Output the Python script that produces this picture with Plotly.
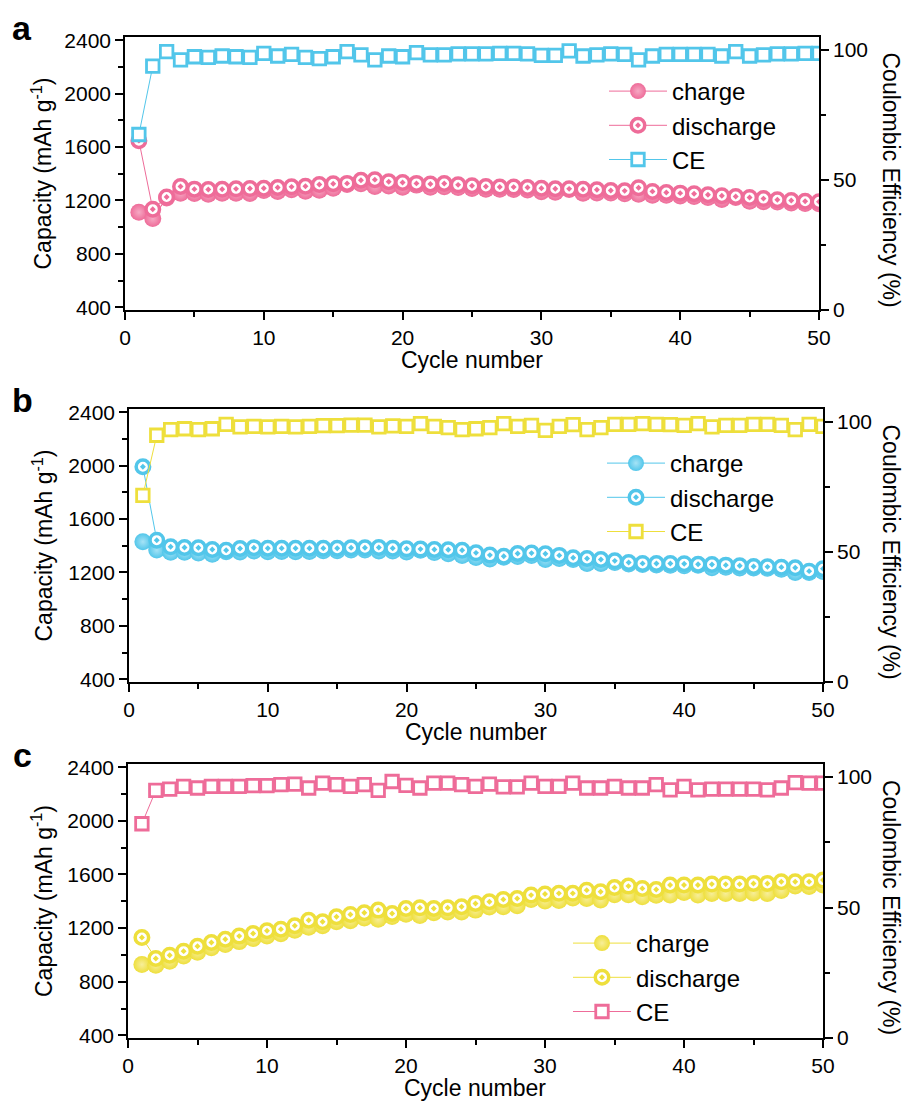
import plotly.graph_objects as go

cycles = list(range(1, 51))

# ---- panel a ----
charge_a = [1112, 1065, 1219, 1255, 1252, 1246, 1254, 1254, 1253, 1275,
            1267, 1280, 1270, 1276, 1291, 1320, 1326, 1304, 1309, 1299,
            1315, 1299, 1302, 1297, 1290, 1285, 1284, 1283, 1278, 1265,
            1261, 1283, 1254, 1256, 1256, 1250, 1247, 1239, 1239, 1234,
            1229, 1222, 1208, 1223, 1195, 1191, 1188, 1182, 1178, 1175]
discharge_a = [1648, 1135, 1226, 1305, 1285, 1282, 1284, 1287, 1289, 1292,
               1297, 1302, 1307, 1320, 1325, 1328, 1352, 1356, 1340, 1334,
               1328, 1324, 1327, 1317, 1310, 1305, 1301, 1300, 1297, 1292,
               1288, 1287, 1284, 1280, 1275, 1272, 1296, 1268, 1260, 1255,
               1250, 1243, 1236, 1230, 1223, 1214, 1206, 1200, 1194, 1190]
ce_a = [67.5, 93.8, 99.4, 96.2, 97.4, 97.2, 97.7, 97.4, 97.2, 98.7,
        97.7, 98.3, 97.2, 96.7, 97.4, 99.4, 98.1, 96.2, 97.7, 97.4,
        99.0, 98.1, 98.1, 98.5, 98.5, 98.5, 98.7, 98.7, 98.5, 97.9,
        97.9, 99.7, 97.7, 98.1, 98.5, 98.3, 96.2, 97.7, 98.3, 98.3,
        98.3, 98.3, 97.7, 99.4, 97.7, 98.1, 98.5, 98.5, 98.7, 98.7]

# ---- panel b ----
charge_b = [1430, 1368, 1352, 1351, 1345, 1336, 1355, 1354, 1361, 1356,
            1358, 1356, 1358, 1363, 1363, 1368, 1368, 1361, 1361, 1354,
            1367, 1349, 1340, 1327, 1312, 1301, 1314, 1319, 1328, 1297,
            1305, 1297, 1267, 1268, 1275, 1264, 1260, 1256, 1254, 1250,
            1254, 1236, 1239, 1234, 1234, 1231, 1224, 1200, 1199, 1207]
discharge_b = [1992, 1442, 1392, 1387, 1385, 1372, 1367, 1380, 1385, 1382,
               1382, 1382, 1382, 1382, 1382, 1385, 1385, 1387, 1382, 1377,
               1375, 1372, 1370, 1367, 1347, 1330, 1322, 1342, 1345, 1340,
               1328, 1310, 1305, 1297, 1287, 1275, 1268, 1267, 1267, 1266,
               1262, 1260, 1255, 1250, 1245, 1242, 1240, 1236, 1210, 1228]
ce_b = [71.8, 94.9, 97.1, 97.4, 97.1, 97.4, 99.1, 98.1, 98.3, 98.1,
        98.3, 98.1, 98.3, 98.6, 98.6, 98.8, 98.8, 98.1, 98.5, 98.3,
        99.4, 98.3, 97.8, 97.1, 97.4, 97.8, 99.4, 98.3, 98.7, 96.8,
        98.3, 99.0, 97.1, 97.8, 99.1, 99.1, 99.4, 99.1, 99.0, 98.7,
        99.4, 98.1, 98.7, 98.7, 99.1, 99.1, 98.7, 97.1, 99.1, 98.3]

# ---- panel c ----
charge_c = [928, 923, 952, 991, 1020, 1053, 1077, 1099, 1122, 1141,
            1157, 1184, 1206, 1218, 1247, 1255, 1276, 1266, 1287, 1303,
            1294, 1315, 1320, 1320, 1334, 1358, 1360, 1367, 1413, 1402,
            1406, 1425, 1421, 1409, 1449, 1449, 1433, 1445, 1446, 1466,
            1446, 1458, 1458, 1458, 1462, 1458, 1481, 1514, 1510, 1522]
discharge_c = [1130, 973, 998, 1028, 1065, 1092, 1117, 1140, 1160, 1180,
               1192, 1217, 1259, 1247, 1284, 1302, 1314, 1334, 1309, 1346,
               1351, 1346, 1351, 1359, 1384, 1396, 1414, 1421, 1446, 1454,
               1459, 1459, 1483, 1471, 1503, 1513, 1496, 1488, 1521, 1521,
               1521, 1528, 1528, 1528, 1533, 1533, 1546, 1546, 1546, 1558]
ce_c = [82.1, 94.9, 95.4, 96.4, 95.8, 96.4, 96.4, 96.4, 96.7, 96.7,
        97.1, 97.3, 95.8, 97.7, 97.1, 96.4, 97.1, 94.9, 98.3, 96.8,
        95.8, 97.7, 97.7, 97.1, 96.4, 97.3, 96.2, 96.2, 97.7, 96.4,
        96.4, 97.7, 95.8, 95.8, 96.4, 95.8, 95.8, 97.1, 95.1, 96.4,
        95.1, 95.4, 95.4, 95.4, 95.4, 95.1, 95.8, 97.9, 97.7, 97.7]

cap_ticks = [400, 800, 1200, 1600, 2000, 2400]
cap_minor = [600, 1000, 1400, 1800, 2200]
ce_ticks = [0, 50, 100]
ce_minor = [25, 75]
cyc_ticks = [0, 10, 20, 30, 40, 50]
cyc_minor = [5, 15, 25, 35, 45]

PINK = "#EE6C99"
PINK_HI = "#F6A9C4"
CYAN = "#52C6EA"
CYAN_HI = "#A6E3F6"
YELLOW = "#EEDF3C"
YELLOW_HI = "#F7EE9A"

FONT = "Arial, 'Liberation Sans', sans-serif"
W, H = 911, 1102


def px_x(v):
    return v / W


def px_y(v):
    return 1 - v / H


# panel frames in pixels: (left, right, top, bottom) and legend anchor
panels = [
    dict(letter="a", box=(125, 819, 37, 310), leg=(604, 69),
         cap=PINK, cap_hi=PINK_HI, ce=CYAN,
         data=(charge_a, discharge_a, ce_a)),
    dict(letter="b", box=(129, 823, 409, 682), leg=(602, 441),
         cap=CYAN, cap_hi=CYAN_HI, ce=YELLOW,
         data=(charge_b, discharge_b, ce_b)),
    dict(letter="c", box=(128, 823, 764, 1038), leg=(568, 921),
         cap=YELLOW, cap_hi=YELLOW_HI, ce=PINK,
         data=(charge_c, discharge_c, ce_c)),
]

fig = go.Figure()
layout = dict(
    width=W, height=H,
    margin=dict(l=0, r=0, t=0, b=0),
    paper_bgcolor="white", plot_bgcolor="white",
    font=dict(family=FONT, color="black", size=21),
    annotations=[],
)

axis_common = dict(
    showgrid=False, zeroline=False, showline=True, linecolor="black",
    linewidth=1.6, ticks="outside", ticklen=8, tickwidth=1.6,
    tickcolor="black", tickfont=dict(size=21, family=FONT),
    automargin=False,
)

for i, p in enumerate(panels):
    L, R, T, B = p["box"]
    xname = "x" if i == 0 else f"x{i + 1}"
    yl = "y" if i == 0 else f"y{2 * i + 1}"
    yr = f"y{2 * i + 2}"
    xkey = "xaxis" if i == 0 else f"xaxis{i + 1}"
    ylkey = "yaxis" if i == 0 else f"yaxis{2 * i + 1}"
    yrkey = f"yaxis{2 * i + 2}"
    legkey = "legend" if i == 0 else f"legend{i + 1}"

    charge, discharge, ce = p["data"]

    fig.add_trace(go.Scatter(
        x=cycles, y=charge, name="charge", mode="lines+markers",
        xaxis=xname, yaxis=yl, legend=legkey,
        line=dict(color=p["cap"], width=1),
        marker=dict(symbol="circle", size=17, color=p["cap"],
                    gradient=dict(type="radial", color=p["cap_hi"]),
                    line=dict(width=0)),
    ))
    fig.add_trace(go.Scatter(
        x=cycles, y=discharge, name="discharge", mode="lines+markers",
        xaxis=xname, yaxis=yl, legend=legkey,
        line=dict(color=p["cap"], width=1),
        marker=dict(symbol="circle-dot", size=13.5, color="white",
                    line=dict(color=p["cap"], width=3.5)),
    ))
    fig.add_trace(go.Scatter(
        x=cycles, y=ce, name="CE", mode="lines+markers",
        xaxis=xname, yaxis=yr, legend=legkey,
        line=dict(color=p["ce"], width=1),
        marker=dict(symbol="square", size=12.5, color="white",
                    line=dict(color=p["ce"], width=2.8)),
    ))

    layout[xkey] = dict(
        axis_common, domain=[px_x(L), px_x(R)], anchor=yl, range=[0, 50],
        tickmode="array", tickvals=cyc_ticks, mirror=True,
        minor=dict(tickmode="array", tickvals=cyc_minor, ticks="outside",
                   ticklen=5, tickwidth=1.6, tickcolor="black"),
    )
    layout[ylkey] = dict(
        axis_common, domain=[px_y(B), px_y(T)], anchor=xname,
        range=[380, 2424], tickmode="array", tickvals=cap_ticks,
        minor=dict(tickmode="array", tickvals=cap_minor, ticks="outside",
                   ticklen=5, tickwidth=1.6, tickcolor="black"),
    )
    layout[yrkey] = dict(
        axis_common, domain=[px_y(B), px_y(T)], anchor=xname,
        overlaying=yl, side="right", range=[0, 105],
        tickmode="array", tickvals=ce_ticks,
        minor=dict(tickmode="array", tickvals=ce_minor, ticks="outside",
                   ticklen=5, tickwidth=1.6, tickcolor="black"),
    )
    lx, ly = p["leg"]
    layout[legkey] = dict(
        x=px_x(lx), y=px_y(ly), xanchor="left", yanchor="top",
        bgcolor="rgba(0,0,0,0)", borderwidth=0, itemwidth=58,
        font=dict(size=24, family=FONT), tracegroupgap=0,
        itemclick=False,
    )

    mid_y = (T + B) / 2
    layout["annotations"] += [
        dict(text=f"<b>{p['letter']}</b>", x=px_x(22), y=px_y((T - 9)),
             xref="paper", yref="paper", showarrow=False,
             font=dict(size=34, family=FONT), xanchor="center", yanchor="middle"),
        dict(text="Capacity (mAh g<sup>-1</sup>)", x=px_x(42), y=px_y(mid_y),
             xref="paper", yref="paper", showarrow=False, textangle=-90,
             font=dict(size=23, family=FONT), xanchor="center", yanchor="middle"),
        dict(text="Coulombic Efficiency (%)", x=px_x(891), y=px_y(mid_y + 6),
             xref="paper", yref="paper", showarrow=False, textangle=90,
             font=dict(size=23, family=FONT), xanchor="center", yanchor="middle"),
        dict(text="Cycle number", x=px_x((L + R) / 2), y=px_y(B + 50),
             xref="paper", yref="paper", showarrow=False,
             font=dict(size=23, family=FONT), xanchor="center", yanchor="middle"),
    ]

fig.update_layout(**layout)
fig.write_html("out.html")
